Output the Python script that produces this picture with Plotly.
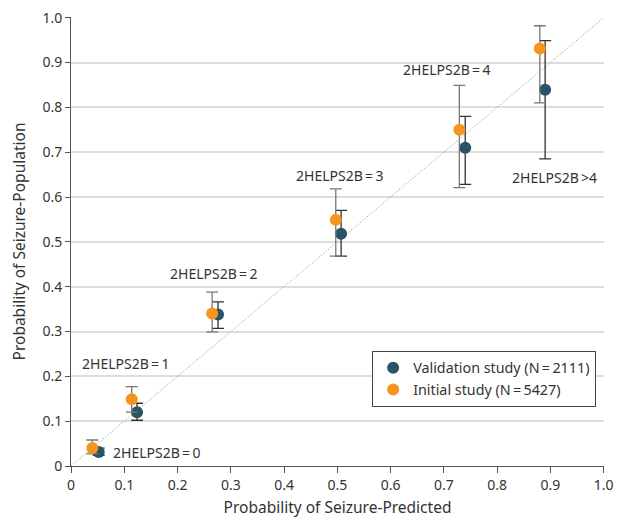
import plotly.graph_objects as go

score_labels = ["2HELPS2B\u2009=\u20090", "2HELPS2B\u2009=\u20091", "2HELPS2B\u2009=\u20092",
                "2HELPS2B\u2009=\u20093", "2HELPS2B\u2009=\u20094", "2HELPS2B\u2009>4"]
label_x = [0.076, 0.017, 0.183, 0.418, 0.620, 0.824]
label_y = [0.030, 0.229, 0.429, 0.648, 0.884, 0.643]

val_pred = [0.052, 0.124, 0.276, 0.507, 0.740, 0.890]
val_obs = [0.031, 0.120, 0.338, 0.518, 0.710, 0.839]
val_lo = [0.024, 0.102, 0.307, 0.468, 0.628, 0.685]
val_hi = [0.040, 0.140, 0.366, 0.570, 0.780, 0.949]

ini_pred = [0.040, 0.114, 0.265, 0.497, 0.729, 0.880]
ini_obs = [0.040, 0.149, 0.340, 0.549, 0.750, 0.931]
ini_lo = [0.027, 0.120, 0.299, 0.468, 0.621, 0.810]
ini_hi = [0.058, 0.177, 0.388, 0.618, 0.849, 0.982]

ticks = [0, 0.1, 0.2, 0.3, 0.4, 0.5, 0.6, 0.7, 0.8, 0.9, 1.0]
tick_text = ["0", "0.1", "0.2", "0.3", "0.4", "0.5", "0.6", "0.7", "0.8", "0.9", "1.0"]

FONT = "Noto Sans"
fig = go.Figure()

fig.add_trace(go.Scatter(x=[0, 1], y=[0, 1], mode="lines",
                         line=dict(color="#888888", width=1, dash="1px,2px"),
                         showlegend=False, hoverinfo="skip"))

fig.add_trace(go.Scatter(
    x=val_pred, y=val_obs, mode="markers", name="Validation study (N\u2009=\u20092111)",
    marker=dict(color="#2a5465", size=12),
    error_y=dict(type="data", symmetric=False,
                 array=[h - o for h, o in zip(val_hi, val_obs)],
                 arrayminus=[o - l for o, l in zip(val_obs, val_lo)],
                 color="#333333", thickness=1.3, width=6)))

fig.add_trace(go.Scatter(
    x=ini_pred, y=ini_obs, mode="markers", name="Initial study (N\u2009=\u20095427)",
    marker=dict(color="#f7941d", size=12),
    error_y=dict(type="data", symmetric=False,
                 array=[h - o for h, o in zip(ini_hi, ini_obs)],
                 arrayminus=[o - l for o, l in zip(ini_obs, ini_lo)],
                 color="#777777", thickness=1.3, width=6)))

for t, x, y in zip(score_labels, label_x, label_y):
    fig.add_annotation(x=x, y=y, text=t, showarrow=False, xanchor="left", yanchor="middle",
                       font=dict(family=FONT, size=14, color="#333333"))

fig.update_layout(
    width=614, height=510,
    margin=dict(l=63, r=18, t=9, b=52),
    plot_bgcolor="white", paper_bgcolor="white",
    font=dict(family=FONT, size=14, color="#333333"),
    legend=dict(x=0.565, y=0.256, xanchor="left", yanchor="top",
                bordercolor="#444444", borderwidth=1, bgcolor="white",
                font=dict(family=FONT, size=14.3, color="#333333"),
                itemsizing="constant"),
    xaxis=dict(range=[0, 1.0005], tickvals=ticks, ticktext=tick_text, showgrid=False,
               zeroline=False, showline=True, linecolor="#555555", linewidth=1,
               ticks="outside", ticklen=6, tickcolor="#555555", automargin=False,
               ticklabeloverflow="allow",
               title=dict(text="Probability of Seizure-Predicted", font=dict(size=15.5), standoff=12)),
    yaxis=dict(range=[0, 1.0015], tickvals=ticks, ticktext=tick_text, showgrid=True,
               gridcolor="#dddddd", gridwidth=1.5, automargin=False,
               ticklabeloverflow="allow",
               zeroline=False, showline=True, linecolor="#555555", linewidth=1,
               ticks="outside", ticklen=5, tickcolor="#555555",
               title=dict(text="Probability of Seizure-Population", font=dict(size=15.5), standoff=20)),
)

fig.write_html("out.html")
